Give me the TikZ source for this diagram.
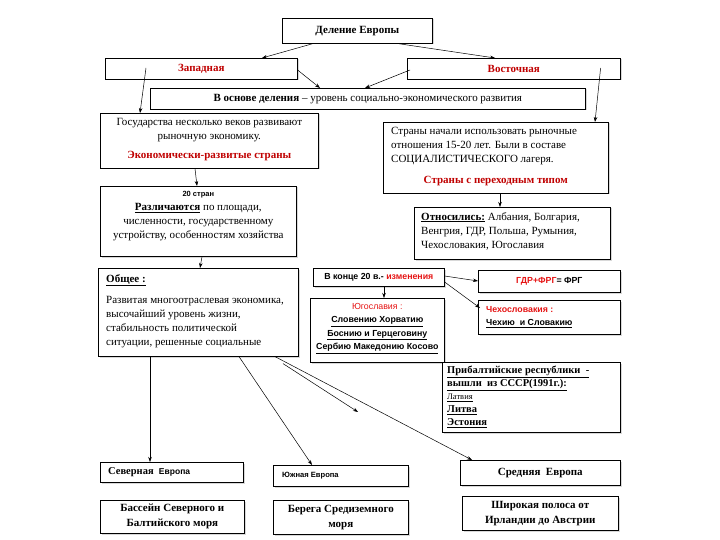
\documentclass[tikz,border=0pt]{standalone}
\usepackage{fontspec}
\setmainfont{Liberation Serif}
\newfontfamily\sansf{Liberation Sans}
\usetikzlibrary{arrows.meta,shadows,calc}
\definecolor{dred}{RGB}{192,0,0}
\definecolor{bred}{RGB}{230,20,20}
\begin{document}
\begin{tikzpicture}[x=1pt,y=-1pt,
  frame/.style={draw=black, line width=0.6pt, fill=white, inner sep=0pt, anchor=north west,
    drop shadow={shadow xshift=1.2pt,shadow yshift=-1.2pt,fill=black!30}},
  txt/.style={font=\fontsize{11}{14}\selectfont, inner sep=0pt},
  stxt/.style={font=\sansf\bfseries\fontsize{8.8}{13.5}\selectfont, inner sep=0pt},
  arr/.style={-{Stealth[length=5pt,width=3.5pt]}, line width=0.5pt}]
\useasboundingbox[fill=white] (0,0) rectangle (720,540);

% --- top level
\node[frame, minimum width=150pt, minimum height=25pt, txt] (del) at (282,18) {\textbf{Деление Европы}};
\node[frame, minimum width=192pt, minimum height=21pt, txt] (zap) at (105,58) {\color{dred}\textbf{Западная}};
\node[frame, minimum width=213pt, minimum height=21pt, txt] (vost) at (407,58) {\color{dred}\textbf{Восточная}};
\node[frame, minimum width=435pt, minimum height=21pt, txt] (osn) at (150,88) {\textbf{В основе деления} – уровень социально-экономического развития};

% --- left column
\node[frame, minimum width=218pt, minimum height=55pt] (gos) at (100,113) {};
\node[txt, align=center, anchor=north] (gost) at ($(gos.north)+(0,5)$) {Государства несколько веков развивают\\ рыночную экономику.\\[5pt] {\color{dred}\textbf{Экономически-развитые страны}}};

\node[frame, minimum width=196pt, minimum height=70pt] (g20) at (100,186) {};
\node[txt, align=center, anchor=north] (g20t) at ($(g20.north)+(0,5)$) {{\sansf\bfseries\fontsize{7.5}{9}\selectfont 20 стран}\\ \underline{\textbf{Различаются}} по площади,\\ численности, государственному\\ устройству, особенностям хозяйства};

\node[frame, minimum width=200pt, minimum height=88pt] (obs) at (98,268) {};
\node[txt, align=left, anchor=north west] (obsh) at ($(obs.north west)+(8,6)$) {\underline{\textbf{Общее :}}};
\node[txt, align=left, anchor=north west] (obst) at ($(obs.north west)+(8,28)$) {Развитая многоотраслевая экономика,\\ высочайший уровень жизни,\\ стабильность политической\\ ситуации, решенные социальные};

% --- right column
\node[frame, minimum width=225pt, minimum height=71pt] (str) at (383,122) {};
\node[txt, align=left, anchor=north west] (strt) at ($(str.north west)+(8,5)$) {Страны начали использовать рыночные\\ отношения 15-20 лет. Были в составе\\ СОЦИАЛИСТИЧЕСКОГО лагеря.};
\node[txt, anchor=north] (strr) at ($(str.north)+(0,54)$) {\color{dred}\textbf{Страны с переходным типом}};

\node[frame, minimum width=196pt, minimum height=52pt] (otn) at (414,207) {};
\node[txt, align=left, anchor=north west] (otnt) at ($(otn.north west)+(7,5)$) {\underline{\textbf{Относились:}} Албания, Болгария,\\ Венгрия, ГДР, Польша, Румыния,\\ Чехословакия, Югославия};

% --- changes
\node[frame, minimum width=131pt, minimum height=18pt, stxt] (vk) at (313,268) {В конце 20 в.- {\color{bred}изменения}};
\node[frame, minimum width=142pt, minimum height=22pt, stxt] (gdr) at (478,270) {{\color{bred}ГДР+ФРГ}= ФРГ};
\node[frame, minimum width=134pt, minimum height=64pt] (yugo) at (310,298) {};
\node[stxt, align=center, anchor=north] (yugot) at ($(yugo.north)+(0,5)$) {{\color{bred}\mdseries Югославия :}\\ \underline{Словению Хорватию}\\ \underline{Боснию и Герцеговину}\\ \underline{Сербию Македонию Косово}};
\node[frame, minimum width=142pt, minimum height=34pt] (cheh) at (478,300) {};
\node[stxt, align=left, anchor=north west] (cheht) at ($(cheh.north west)+(8,6)$) {{\color{bred}Чехословакия :}\\ \underline{Чехию\ \ и Словакию}};
\node[frame, minimum width=178pt, minimum height=70pt] (prib) at (442,362) {};
\node[align=left, anchor=north west, inner sep=0pt, font=\bfseries\fontsize{10.5}{13}\selectfont] (pribt) at ($(prib.north west)+(5,4)$) {\underline{Прибалтийские республики\ \ -}\\ \underline{вышли\ \ из СССР(1991г.):}\\ {\fontsize{8.5}{11}\selectfont\mdseries\underline{Латвия}}\\ \underline{Литва}\\ \underline{Эстония}};

% --- bottom
\node[frame, minimum width=143pt, minimum height=20pt] (sev) at (100,462) {};
\node[anchor=west, inner sep=0pt] (sevt) at ($(sev.west)+(8,0)$) {\fontsize{10.5}{12}\selectfont\textbf{Северная}\ \ {\sansf\bfseries\fontsize{8.5}{10}\selectfont Европа}};
\node[frame, minimum width=135pt, minimum height=21pt] (yuzh) at (273,465) {};
\node[stxt, anchor=west] (yuzht) at ($(yuzh.west)+(9,0)$) {\fontsize{7.6}{9}\selectfont Южная Европа};
\node[frame, minimum width=160pt, minimum height=25pt, txt] (sred) at (460,460) {\textbf{Средняя\ \ Европа}};

\node[frame, minimum width=144pt, minimum height=33pt, txt, align=center, font=\bfseries\fontsize{11}{15}\selectfont] (bas) at (100,500) {Бассейн Северного и\\ Балтийского моря};
\node[frame, minimum width=135pt, minimum height=34pt, txt, align=center, font=\bfseries\fontsize{11}{15}\selectfont] (ber) at (273,500) {Берега Средиземного\\ моря};
\node[frame, minimum width=156pt, minimum height=34pt, txt, align=center, font=\bfseries\fontsize{11}{15}\selectfont] (shir) at (462,496) {Широкая полоса от\\ Ирландии до Австрии};

% --- connectors
\coordinate (stray) at (358,412);
\draw[arr] ($(del.south west)+(31,0)$) -- ($(zap.north west)+(157,0)$);
\draw[arr] ($(del.south west)+(116,0)$) -- ($(vost.north west)+(88,0)$);
\draw[arr] ($(zap.north east)+(0,12)$) -- ($(osn.north west)+(170,0)$);
\draw[arr] ($(vost.north west)+(3,12)$) -- ($(osn.north west)+(215,0)$);
\draw[arr] ($(zap.north west)+(41,10)$) -- ($(gos.north west)+(40,0)$);
\draw[arr] ($(vost.north east)+(-20,10)$) -- ($(str.north west)+(212,0)$);
\draw[arr] ($(gos.south west)+(95,0)$) -- ($(g20.north west)+(97,0)$);
\draw[arr] ($(str.south west)+(117,0)$) -- ($(otn.north west)+(86,0)$);
\draw[arr] ($(g20.south west)+(102,0)$) -- ($(obs.north west)+(102,0)$);
\draw[arr] ($(obs.south west)+(52,0)$) -- ($(sev.north west)+(50,0)$);
\draw[arr] ($(obs.south west)+(141,0)$) -- ($(yuzh.north west)+(39,0)$);
\draw[arr] ($(obs.south west)+(177,0)$) -- ($(sred.north west)+(12,0)$);
\draw[arr] ($(obs.south west)+(185,7)$) -- (stray);
\draw[arr] ($(vk.south west)+(71,0)$) -- ($(yugo.north west)+(74,0)$);
\draw[arr] ($(vk.north east)+(0,8)$) -- ($(gdr.north west)+(0,11)$);
\draw[arr] ($(vk.north east)+(0,14)$) -- ($(cheh.north west)+(2,8)$);
\end{tikzpicture}
\end{document}
